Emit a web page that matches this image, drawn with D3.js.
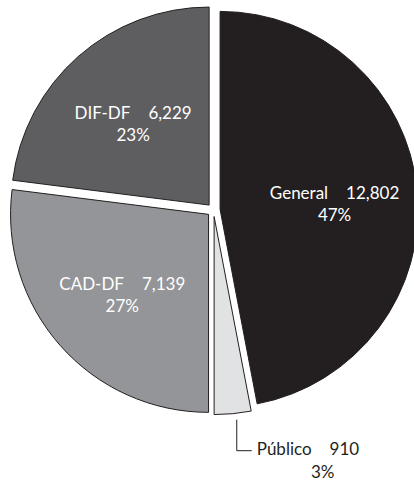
<!DOCTYPE html>
<html>
<head>
<meta charset="utf-8">
<script src="https://cdn.jsdelivr.net/npm/d3@7"></script>
<style>
  body { margin: 0; background: #fff; }
  text { font-family: Lato, "Open Sans", sans-serif; font-size: 17px; }
</style>
</head>
<body>
<div id="chart"></div>
<script>
// Chart data
const categories = ['General', 'Público', 'CAD-DF', 'DIF-DF'];
const counts = [12802, 910, 7139, 6229];
const percents = [47, 3, 27, 23];
const fills = ['#231f20', '#e1e2e3', '#939598', '#5e5e60'];
const textFills = ['#ffffff', '#231f20', '#ffffff', '#ffffff'];

const width = 414, height = 483;
const cx = 213.5, cy = 210, radius = 198;
const explode = 6.6;   // how far each slice is pulled out
const labelRadius = 115;
const nameGap = 18;    // space between name and count

const svg = d3.select('#chart').append('svg')
  .attr('width', width)
  .attr('height', height);

const rows = categories.map((c, i) => ({
  name: c, count: counts[i], pct: percents[i], fill: fills[i], textFill: textFills[i]
}));

// slice sizes follow the rounded percentages, as in the original
const pie = d3.pie().sort(null).value(d => d.pct);
const arc = d3.arc().innerRadius(0).outerRadius(radius);
const arcs = pie(rows);

const fmt = d3.format(',');

function offset(a) {
  const mid = (a.startAngle + a.endAngle) / 2;
  return [Math.sin(mid), -Math.cos(mid)];
}

const g = svg.append('g').attr('transform', `translate(${cx},${cy})`);

const slice = g.selectAll('g.slice')
  .data(arcs)
  .enter()
  .append('g')
  .attr('class', 'slice')
  .attr('transform', d => {
    const [ux, uy] = offset(d);
    return `translate(${ux * explode},${uy * explode})`;
  });

slice.append('path')
  .attr('d', arc)
  .attr('fill', d => d.data.fill)
  .attr('stroke', '#231f20')
  .attr('stroke-width', 1);

// inside labels for the big slices
const inside = slice.filter(d => d.data.pct >= 10);

const lbl = inside.append('text')
  .attr('text-anchor', 'middle')
  .attr('fill', d => d.data.textFill)
  .attr('transform', d => {
    const [ux, uy] = offset(d);
    return `translate(${ux * labelRadius},${uy * labelRadius})`;
  });

lbl.append('tspan')
  .attr('x', 0)
  .attr('y', 0)
  .text(d => d.data.name);
lbl.append('tspan')
  .attr('dx', nameGap)
  .text(d => fmt(d.data.count));

inside.append('text')
  .attr('text-anchor', 'middle')
  .attr('fill', d => d.data.textFill)
  .attr('transform', d => {
    const [ux, uy] = offset(d);
    return `translate(${ux * labelRadius},${uy * labelRadius + 22})`;
  })
  .text(d => d.data.pct + '%');

// small slice gets an outside label with a leader line
const outside = slice.filter(d => d.data.pct < 10);

outside.each(function (d) {
  const sel = d3.select(this);
  const [ux, uy] = offset(d);
  const x0 = ux * radius + 4;
  const y0 = uy * radius + 6;
  const yTurn = y0 + 31;
  const xEnd = x0 + 15;

  sel.append('path')
    .attr('d', `M${x0},${y0}V${yTurn}H${xEnd}`)
    .attr('fill', 'none')
    .attr('stroke', '#231f20')
    .attr('stroke-width', 1);

  const t = sel.append('text')
    .attr('fill', d.data.textFill)
    .attr('x', xEnd + 5)
    .attr('y', yTurn + 4);
  t.append('tspan').text(d.data.name);
  t.append('tspan').attr('dx', nameGap).text(fmt(d.data.count));

  sel.append('text')
    .attr('fill', d.data.textFill)
    .attr('text-anchor', 'middle')
    .attr('x', xEnd + 71)
    .attr('y', yTurn + 27)
    .text(d.data.pct + '%');
});
</script>
</body>
</html>
